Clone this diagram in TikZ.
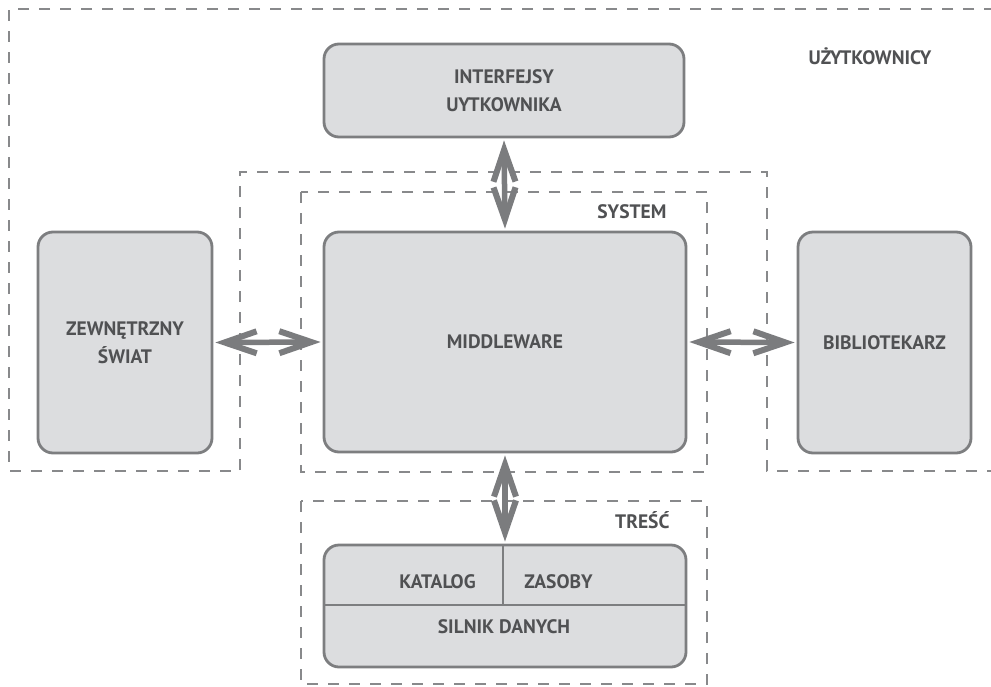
\documentclass[tikz,border=0pt]{standalone}
\usepackage{fontspec}
\setmainfont{PT Sans}
\usetikzlibrary{arrows.meta}
\definecolor{boxfill}{HTML}{DCDDDF}
\definecolor{boxline}{HTML}{7D7E80}
\definecolor{dashline}{HTML}{88898B}
\definecolor{txt}{HTML}{505153}
\definecolor{arr}{HTML}{7B7C7E}
\tikzset{
  blk/.style={draw=boxline, fill=boxfill, line width=2.8pt, rounded corners=15pt, inner sep=0pt},
  lbl/.style={text=txt, font=\fontsize{19.5}{28}\selectfont\bfseries, align=center},
  region/.style={draw=dashline, line width=2.8pt, dash pattern=on 11pt off 10pt},
  dbl/.style={draw=arr, line width=5.5pt, {Straight Barb[length=32pt,width=22pt,line width=6pt]}-{Straight Barb[length=32pt,width=22pt,line width=6pt]}, shorten <=2pt, shorten >=2pt}
}
\begin{document}
\begin{tikzpicture}[x=1pt,y=-1pt]
\useasboundingbox (0,0) rectangle (991,686);
\fill[white] (0,0) rectangle (991,686);
% regions
\draw[region] (995,9) -- (9,9) -- (9,471) -- (240,471) -- (240,172) -- (767,172) -- (767,471) -- (995,471);
\draw[region] (301,192) rectangle (707,472);
\draw[region] (301,501) rectangle (707,684);
% nodes
\node[blk, minimum width=360pt, minimum height=93pt] (ui) at (504,90.5) {};
\node[lbl] (uit) at (ui.center) {INTERFEJSY\\UYTKOWNIKA};
\node[blk, minimum width=362pt, minimum height=220pt] (mw) at (505,342) {};
\node[lbl] (mwt) at (mw.center) {MIDDLEWARE};
\node[blk, minimum width=174pt, minimum height=221pt] (zs) at (125,342.5) {};
\node[lbl] (zst) at (zs.center) {ZEWNĘTRZNY\\ŚWIAT};
\node[blk, minimum width=173pt, minimum height=221pt] (bib) at (884.5,342.5) {};
\node[lbl] (bibt) at (bib.center) {BIBLIOTEKARZ};
\node[blk, minimum width=362pt, minimum height=122pt] (db) at (505,606) {};
\coordinate (vtop) at (503,545);
\coordinate (vbot) at (503,605);
\coordinate (hl) at (324,605);
\coordinate (hr) at (686,605);
\draw[boxline, line width=2.8pt] (vtop) -- (vbot);
\draw[boxline, line width=2.8pt] (hl) -- (hr);
\node[lbl, anchor=base] (kat) at (437.5,588) {KATALOG};
\node[lbl, anchor=base] (zas) at (558.5,588) {ZASOBY};
\node[lbl, anchor=base] (sil) at (504,633) {SILNIK DANYCH};
% region labels
\node[lbl, anchor=base east] (uz) at (935,64) {UŻYTKOWNICY};
\node[lbl, anchor=base east] (sys) at (670,218) {SYSTEM};
\node[lbl, anchor=base east] (tr) at (673,528) {TREŚĆ};
% arrows
\draw[dbl] (ui.south) -- (mw.north);
\draw[dbl] (mw.south) -- (db.north);
\draw[dbl] (zs.east) -- (mw.west);
\draw[dbl] (mw.east) -- (bib.west);
\end{tikzpicture}
\end{document}
